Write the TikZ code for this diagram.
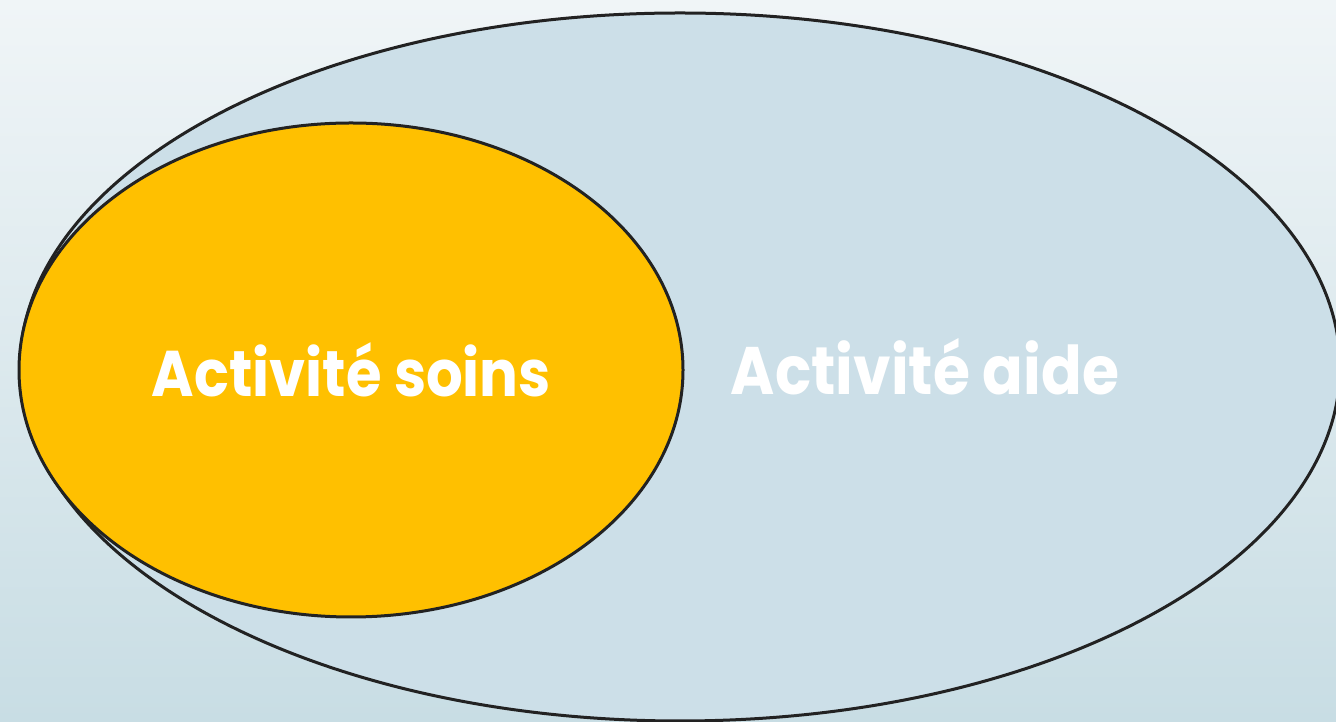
\documentclass[tikz,border=0pt]{standalone}
\usepackage{fontspec}
\setmainfont{Poppins}[BoldFont={* Bold}]
\usetikzlibrary{shapes.geometric}
\definecolor{bgtop}{HTML}{F0F5F7}
\definecolor{bgbottom}{HTML}{C8DDE4}
\definecolor{setfill}{HTML}{CCDFE8}
\definecolor{subfill}{HTML}{FFC000}
\definecolor{outline}{HTML}{222222}
\tikzset{
  setshape/.style={ellipse, draw=outline, line width=3pt, inner sep=0pt, outer sep=0pt},
  setlabel/.style={text=white, font=\bfseries, inner sep=0pt, anchor=base}
}
\begin{document}
\begin{tikzpicture}[x=1pt,y=1pt]
  % page background with vertical gradient
  \shade[top color=bgtop, bottom color=bgbottom] (0,0) rectangle (1336,722);
  \useasboundingbox (0,0) rectangle (1336,722);
  % outer set and inner subset
  \node[setshape, fill=setfill, minimum width=1320pt, minimum height=708pt] (aide) at (680,355) {};
  \node[setshape, fill=subfill, minimum width=664pt, minimum height=494pt] (soins) at (351,352) {};
  % labels, stretched slightly upward for taller capitals
  \node[setlabel] (soinslabel) at (351.5,325) {\scalebox{1}[1.12]{\resizebox{399pt}{!}{Activité soins}}};
  \node[setlabel] (aidelabel) at (925,327) {\scalebox{1}[1.12]{\resizebox{388pt}{!}{Activité aide}}};
\end{tikzpicture}
\end{document}
